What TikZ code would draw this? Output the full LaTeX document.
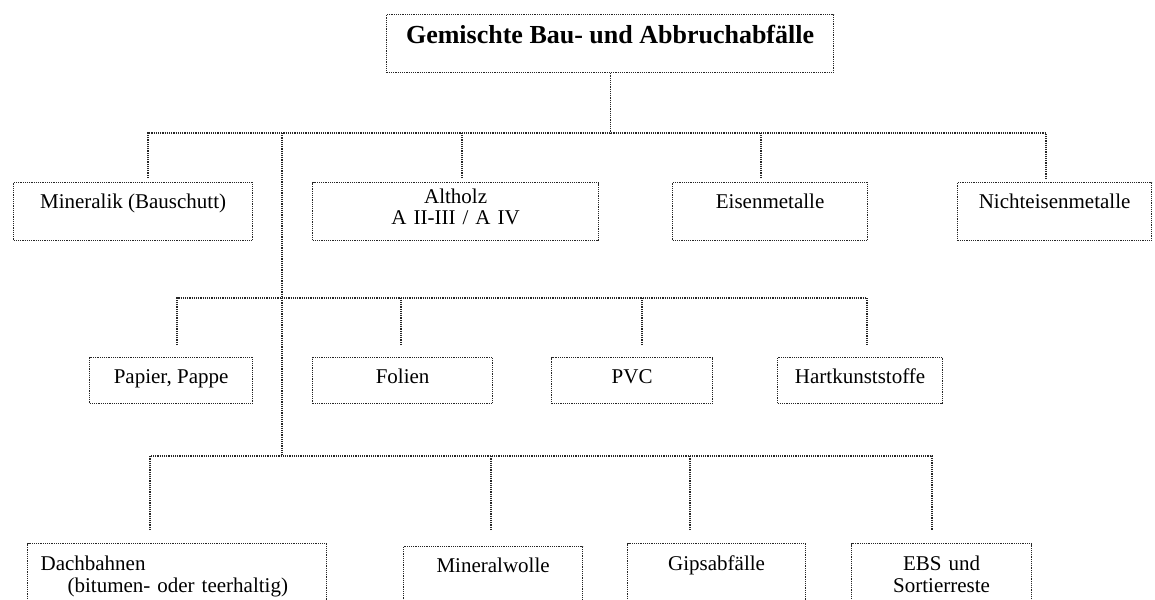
\documentclass[tikz,border=0pt]{standalone}
\usepackage{fontspec}
\setmainfont{Liberation Serif}

\begin{document}
\begin{tikzpicture}[x=1pt,y=-1pt,
    kasten/.style={draw=black!85,densely dotted,line width=1.2pt,inner sep=0pt,anchor=north west,
      align=center,font=\fontsize{21}{22}\selectfont},
    linie/.style={draw=black!85,densely dotted,line width=1.2pt}]
    \useasboundingbox (0,0) rectangle (1155,599);
    \clip (0,0) rectangle (1155,599);
    \node[kasten,minimum width=447,text height=29,text depth=29,font=\fontsize{26}{30}\selectfont\bfseries] (00) at (386,14) {Gemischte Bau- und Abbruchabfälle};
    \node[kasten,minimum width=239,text height=26,text depth=32] (11) at (13,182) {Mineralik (Bauschutt)};
    \node[kasten,minimum width=286,text width=260,text height=21,text depth=37,font=\fontsize{21}{21}\selectfont] (12) at (312,182) {Altholz\\A II-III / A IV};
    \node[kasten,minimum width=195,text height=26,text depth=32] (13) at (672,182) {Eisenmetalle};
    \node[kasten,minimum width=194,text height=26,text depth=32] (14) at (957,182) {Nichteisenmetalle};
    \node[kasten,minimum width=163,text height=26,text depth=20] (21) at (89,357) {Papier, Pappe};
    \node[kasten,minimum width=180,text height=26,text depth=20] (22) at (312,357) {Folien};
    \node[kasten,minimum width=161,text height=26,text depth=20] (23) at (551,357) {PVC};
    \node[kasten,minimum width=165,text height=26,text depth=20] (24) at (777,357) {Hartkunststoffe};
    \node[kasten,minimum width=299,text width=273,align=left,text height=27,text depth=60] (31) at (27,543) {Dachbahnen\\\hspace*{27pt}(bitumen- oder teerhaltig)};
    \node[kasten,minimum width=179,text height=26,text depth=58] (32) at (403,546) {Mineralwolle};
    \node[kasten,minimum width=178,text height=27,text depth=60] (33) at (627,543) {Gipsabfälle};
    \node[kasten,minimum width=180,text width=160,text height=27,text depth=60] (34) at (851,543) {EBS und\\Sortierreste};
    \coordinate (t1) at (282,133);
    \coordinate (t2) at (282,298);
    \coordinate (t3) at (282,456);
    \coordinate (d11) at (148,178);
    \coordinate (d12) at (462,178);
    \coordinate (d13) at (761,178);
    \coordinate (d14) at (1046,178);
    \coordinate (d21) at (177,345);
    \coordinate (d22) at (401,345);
    \coordinate (d23) at (642,345);
    \coordinate (d24) at (867,345);
    \coordinate (d31) at (150,530);
    \coordinate (d32) at (491,530);
    \coordinate (d33) at (690,530);
    \coordinate (d34) at (932,530);
    \draw[linie] (00.south) -- (00.south |- t1);
    \draw[linie] (t1) -- (t3);
    \draw[linie] (d11) -- (d11 |- t1) -- (d14 |- t1) -- (d14);
    \draw[linie] (d21) -- (d21 |- t2) -- (d24 |- t2) -- (d24);
    \draw[linie] (d31) -- (d31 |- t3) -- (d34 |- t3) -- (d34);
    \foreach \d in {d12,d13}
        \draw[linie] (\d) -- (\d |- t1);
    \foreach \d in {d22,d23}
        \draw[linie] (\d) -- (\d |- t2);
    \foreach \d in {d32,d33}
        \draw[linie] (\d) -- (\d |- t3);
\end{tikzpicture}
\end{document}
